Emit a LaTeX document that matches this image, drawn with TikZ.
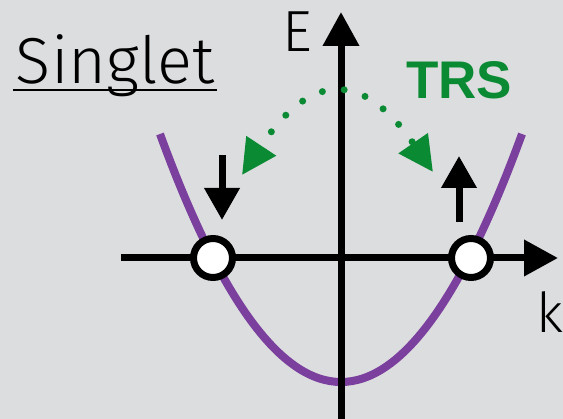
\documentclass[tikz,border=0pt]{standalone}
\usepackage{fontspec}
\setmainfont{Liberation Sans}
\newfontfamily\lightfont{Fira Sans Light}
\usetikzlibrary{arrows.meta}
\definecolor{bg}{HTML}{DCDDDF}
\definecolor{band}{HTML}{7B3F9E}
\definecolor{trsgreen}{HTML}{0A8A33}
\tikzset{
  axis/.style={line width=7pt, -{Triangle[length=34pt,width=35pt]}},
  spin/.style={line width=7pt, -{Triangle[length=32pt,width=34pt]}},
  crossing/.style={circle, draw=black, fill=white, line width=7pt, minimum size=39pt, inner sep=0pt},
  trs/.style={trsgreen, line width=7pt, line cap=round, dash pattern=on 0pt off 22pt, dash phase=3pt,
    {Triangle[length=35pt,width=34pt]}-{Triangle[length=35pt,width=34pt]}},
  lbl/.style={anchor=base west, inner sep=0pt, outer sep=0pt}
}
\begin{document}
\begin{tikzpicture}[x=1pt, y=-1pt]
  \useasboundingbox[fill=bg] (0,0) rectangle (563,419);

  % title
  \node[lbl] (title) at (16,84) {\lightfont\fontsize{65}{65}\selectfont Singlet};
  \draw[line width=2.5pt] (13,90) -- (217,90);

  % dispersion band
  \draw[band, line width=8pt] (160,134) .. controls (280.67,464.67) and (401.33,464.67) .. (522,134);

  % axes
  \coordinate (kstart) at (121,258);
  \coordinate (kend) at (558,258);
  \coordinate (estart) at (341,419);
  \coordinate (eend) at (341,12);
  \draw[axis] (kstart) -- (kend);
  \draw[axis] (estart) -- (eend);
  \node[lbl] (elabel) at (282,52) {\lightfont\fontsize{58}{58}\selectfont E};
  \node[lbl] (klabel) at (536,333) {\lightfont\fontsize{55}{55}\selectfont k};

  % Fermi points
  \node[crossing] (kl) at (213,258) {};
  \node[crossing] (kr) at (471,258) {};

  % spins
  \coordinate (dnfrom) at (222,155);
  \coordinate (dnto) at (222,220);
  \coordinate (upfrom) at (459,222);
  \coordinate (upto) at (459,156);
  \draw[spin] (dnfrom) -- (dnto);
  \draw[spin] (upfrom) -- (upto);

  % time-reversal link
  \coordinate (tl) at (242,175);
  \coordinate (tr) at (433,172);
  \draw[trs] (tl) .. controls (310,72) and (362,69) .. (tr);
  \node[lbl, text=trsgreen] (trslabel) at (406,99) {\bfseries\fontsize{53}{53}\selectfont TRS};
\end{tikzpicture}
\end{document}
